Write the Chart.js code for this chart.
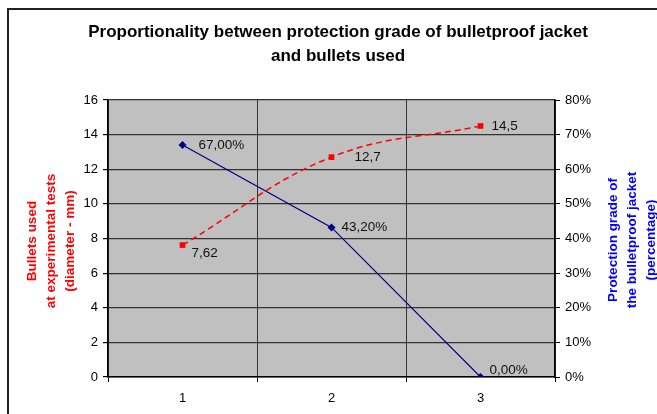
<!DOCTYPE html>
<html>
<head>
<meta charset="utf-8">
<script src="https://cdn.jsdelivr.net/npm/chart.js@4/dist/chart.umd.min.js"></script>
<style>
    html, body { margin: 0; padding: 0; background: #fff; }
    #wrap { width: 657px; height: 414px; position: relative; }
</style>
</head>
<body>
<div id="wrap"><canvas id="chart" width="657" height="414"></canvas></div>
<script>
// Chart data
const categories = ['1', '2', '3'];
const bulletsUsed = [7.62, 12.7, 14.5];
const protectionGrade = [67, 43.2, 0];
const leftTicks = [0, 2, 4, 6, 8, 10, 12, 14, 16];
const rightTicks = [0, 10, 20, 30, 40, 50, 60, 70, 80];

const titleLines = ['Proportionality between protection grade of bulletproof jacket', 'and bullets used'];
const leftTitle = ['Bullets used', 'at experimental tests', '(diameter - mm)'];
const rightTitle = ['Protection grade of', 'the bulletproof jacket', '(percentage)'];

const FONT = '"Liberation Sans", Arial, sans-serif';

// Label formats with decimal comma
function fmtBullet(v) {
    return String(v).replace('.', ',');
}
function fmtPercent(v) {
    return v.toFixed(2).replace('.', ',') + '%';
}

// Offsets of data labels from their point
const redLabelOffsets = [[9, 8], [23, 0], [11, 0]];
const blueLabelOffsets = [[16, 0], [10, 0], [9, -7]];

// Draws background, frame, title, axis titles and value labels
const decorPlugin = {
    id: 'decor',
    beforeDraw(chart) {
        const c = chart.ctx;
        const a = chart.chartArea;
        c.save();
        c.fillStyle = '#ffffff';
        c.fillRect(0, 0, chart.width, chart.height);
        c.fillStyle = '#c0c0c0';
        c.fillRect(a.left, a.top, a.right - a.left, a.bottom - a.top);
        // outer frame
        c.strokeStyle = '#222';
        c.lineWidth = 2;
        c.strokeRect(8, 9, 700, 500);
        c.restore();
    },
    afterDraw(chart) {
        const c = chart.ctx;
        c.save();
        // title
        c.fillStyle = '#000';
        c.font = 'bold 17px ' + FONT;
        c.textAlign = 'center';
        c.textBaseline = 'middle';
        c.fillText(titleLines[0], 338, 32);
        c.fillText(titleLines[1], 338, 56);

        // axis titles, both rotated -90
        c.font = 'bold 13.5px ' + FONT;
        function vtitle(lines, cx, cy, color) {
            c.save();
            c.translate(cx, cy);
            c.rotate(-Math.PI / 2);
            c.fillStyle = color;
            const lh = 19;
            lines.forEach((t, i) => {
                c.fillText(t, 0, (i - (lines.length - 1) / 2) * lh);
            });
            c.restore();
        }
        vtitle(leftTitle, 51, 241, '#ff0000');
        vtitle(rightTitle, 632, 240, '#0000ff');

        // value labels
        c.font = '13.5px ' + FONT;
        c.fillStyle = '#111';
        c.textAlign = 'left';
        const redMeta = chart.getDatasetMeta(0);
        redMeta.data.forEach((pt, i) => {
            const o = redLabelOffsets[i];
            c.fillText(fmtBullet(bulletsUsed[i]), pt.x + o[0], pt.y + o[1]);
        });
        const blueMeta = chart.getDatasetMeta(1);
        blueMeta.data.forEach((pt, i) => {
            const o = blueLabelOffsets[i];
            c.fillText(fmtPercent(protectionGrade[i]), pt.x + o[0], pt.y + o[1]);
        });
        c.restore();
    }
};

const ctx = document.getElementById('chart').getContext('2d');
const chart = new Chart(ctx, {
    type: 'line',
    data: {
        labels: categories,
        datasets: [
            {
                label: 'Bullets used',
                data: bulletsUsed,
                yAxisID: 'y',
                borderColor: '#ff0000',
                backgroundColor: '#ff0000',
                borderWidth: 1.5,
                borderDash: [6, 4],
                tension: 0.4,
                pointStyle: 'rect',
                pointRadius: 4,
                pointBorderWidth: 0
            },
            {
                label: 'Protection grade',
                data: protectionGrade,
                yAxisID: 'y1',
                borderColor: '#000080',
                backgroundColor: '#000080',
                borderWidth: 1.2,
                tension: 0,
                pointStyle: 'rectRot',
                pointRadius: 4,
                pointBorderWidth: 0
            }
        ]
    },
    options: {
        responsive: false,
        animation: false,
        layout: {
            padding: { top: 100, left: 0, right: 0, bottom: 0 }
        },
        scales: {
            x: {
                offset: true,
                grid: {
                    offset: true,
                    color: '#333',
                    lineWidth: 1,
                    tickLength: 5,
                    tickColor: '#000'
                },
                border: { color: '#000', width: 1.5 },
                ticks: {
                    color: '#000',
                    padding: 9,
                    font: { family: FONT, size: 13 }
                },
                afterFit(scale) { scale.height = 37; }
            },
            y: {
                position: 'left',
                min: 0,
                max: 16,
                afterBuildTicks(scale) { scale.ticks = leftTicks.map(v => ({ value: v })); },
                grid: {
                    color: '#333',
                    lineWidth: 1.2,
                    tickLength: 5,
                    tickColor: '#000'
                },
                border: { color: '#000', width: 1.5 },
                ticks: {
                    color: '#000',
                    padding: 5,
                    font: { family: FONT, size: 13 }
                },
                afterFit(scale) { scale.width = 108; }
            },
            y1: {
                position: 'right',
                min: 0,
                max: 80,
                afterBuildTicks(scale) { scale.ticks = rightTicks.map(v => ({ value: v })); },
                grid: {
                    drawOnChartArea: false,
                    tickLength: 5,
                    tickColor: '#000'
                },
                border: { color: '#000', width: 1.5 },
                ticks: {
                    color: '#000',
                    padding: 5,
                    font: { family: FONT, size: 13 },
                    callback: v => v + '%'
                },
                afterFit(scale) { scale.width = 102; }
            }
        },
        plugins: {
            legend: { display: false },
            tooltip: { enabled: false },
            title: { display: false }
        }
    },
    plugins: [decorPlugin]
});
</script>
</body>
</html>
